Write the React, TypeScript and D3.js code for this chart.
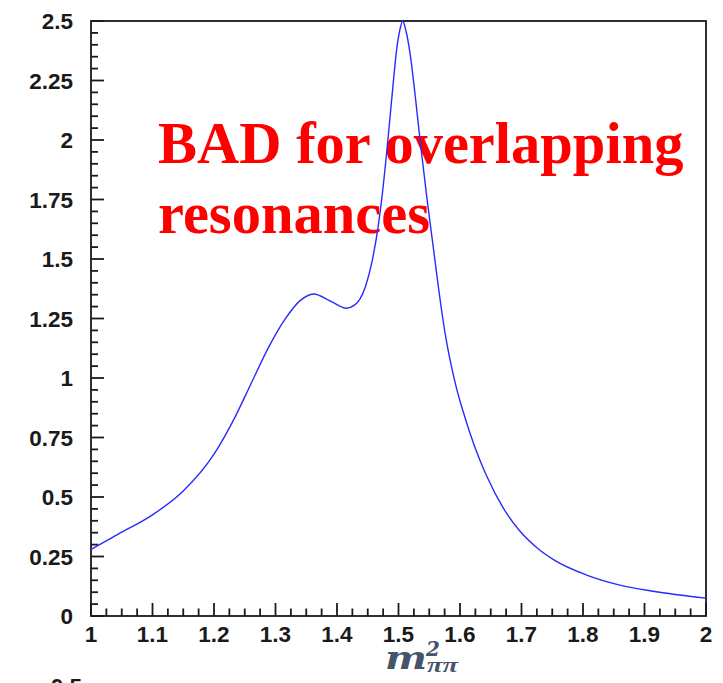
import React from "react";
import * as d3 from "d3";

const xValues = [1.0, 1.045, 1.1, 1.15, 1.2, 1.235, 1.26, 1.29, 1.315, 1.34, 1.362, 1.39, 1.415, 1.428, 1.437, 1.447, 1.457, 1.466, 1.474, 1.482, 1.49, 1.497, 1.502, 1.507, 1.512, 1.519, 1.527, 1.535, 1.546, 1.557, 1.565, 1.572, 1.579, 1.586, 1.595, 1.605, 1.616, 1.63, 1.643, 1.67, 1.698, 1.725, 1.752, 1.806, 1.86, 1.914, 2.0];
const yValues = [0.28, 0.345, 0.425, 0.525, 0.68, 0.84, 0.975, 1.135, 1.245, 1.325, 1.353, 1.322, 1.293, 1.305, 1.33, 1.39, 1.49, 1.62, 1.78, 1.98, 2.2, 2.38, 2.46, 2.5, 2.46, 2.36, 2.19, 2.0, 1.76, 1.54, 1.38, 1.25, 1.14, 1.05, 0.95, 0.86, 0.77, 0.67, 0.59, 0.455, 0.355, 0.287, 0.237, 0.172, 0.13, 0.104, 0.075];

const xTickLabels = ["1", "1.1", "1.2", "1.3", "1.4", "1.5", "1.6", "1.7", "1.8", "1.9", "2"];
const yTickLabels = ["0", "0.25", "0.5", "0.75", "1", "1.25", "1.5", "1.75", "2", "2.25", "2.5"];
const titleLines = ["BAD for overlapping", "resonances"];

const W = 723;
const H = 683;
const left = 91;
const right = 706;
const top = 21;
const bottom = 616;

export default function App() {
  const x = d3.scaleLinear().domain([1, 2]).range([left, right]);
  const y = d3.scaleLinear().domain([0, 2.5]).range([bottom, top]);
  const pts: [number, number][] = xValues.map((v, i) => [v, yValues[i]]);
  const line = d3
    .line<[number, number]>()
    .x((d) => x(d[0]))
    .y((d) => y(d[1]))
    .curve(d3.curveMonotoneX);

  const xMinor = d3.range(0, 41).map((i) => 1 + i * 0.025);
  const yMinor = d3.range(0, 51).map((i) => i * 0.05);
  const tickColor = "#1a1a1a";
  const labelFont = "'Liberation Sans', Arial, sans-serif";

  return (
    <svg
      width={W}
      height={H}
      style={{ position: "absolute", left: 0, top: 0, display: "block", background: "#fff" }}
    >
      <rect x={0} y={0} width={W} height={H} fill="#fff" />
      {/* x ticks */}
      {xMinor.map((v, i) => {
        const major = i % 4 === 0;
        return (
          <line
            key={"xt" + i}
            x1={x(v)}
            x2={x(v)}
            y1={bottom}
            y2={bottom - (major ? 13 : 7.5)}
            stroke={tickColor}
            strokeWidth={1.8}
          />
        );
      })}
      {yMinor.map((v, i) => {
        const major = i % 5 === 0;
        return (
          <line
            key={"yt" + i}
            x1={left}
            x2={left + (major ? 13 : 7)}
            y1={y(v)}
            y2={y(v)}
            stroke={tickColor}
            strokeWidth={1.8}
          />
        );
      })}
      {/* frame */}
      <rect
        x={left}
        y={top}
        width={right - left}
        height={bottom - top}
        fill="none"
        stroke="#1a1a1a"
        strokeWidth={1.8}
      />
      {/* tick labels */}
      {xTickLabels.map((t) => (
        <text
          key={"xl" + t}
          x={x(+t)}
          y={641.5}
          textAnchor="middle"
          fontFamily={labelFont}
          fontWeight="bold"
          fontSize={22.5}
          fill={tickColor}
        >
          {t}
        </text>
      ))}
      {yTickLabels.map((t) => (
        <text
          key={"yl" + t}
          x={73}
          y={y(+t)}
          dy="0.36em"
          textAnchor="end"
          fontFamily={labelFont}
          fontWeight="bold"
          fontSize={22.5}
          fill={tickColor}
        >
          {t}
        </text>
      ))}
      {/* cut-off label of the next panel */}
      <text
        x={82}
        y={694}
        textAnchor="end"
        fontFamily={labelFont}
        fontWeight="bold"
        fontSize={22.5}
        fill={tickColor}
      >
        0.5
      </text>
      {/* axis title */}
      <text fill="#44546a" fontWeight="bold" fontStyle="italic" fontFamily="'DejaVu Serif', serif">
        <tspan x={385} y={669} fontSize={32} textLength={42} lengthAdjust="spacingAndGlyphs">
          m
        </tspan>
        <tspan x={426} y={656} fontSize={20}>
          2
        </tspan>
        <tspan
          x={427}
          y={672}
          fontSize={22}
          fontFamily="'Liberation Serif', 'Times New Roman', serif"
          textLength={31}
          lengthAdjust="spacingAndGlyphs"
        >
          ππ
        </tspan>
      </text>
      {/* red annotation */}
      {titleLines.map((t, i) => (
        <text
          key={"tt" + i}
          x={158}
          y={163 + i * 70}
          fontFamily="'Liberation Serif', 'Times New Roman', serif"
          fontWeight="bold"
          fontSize={58.5}
          fill="#ff0000"
        >
          {t}
        </text>
      ))}
      {/* curve */}
      <path d={line(pts) || ""} fill="none" stroke="#2a2aff" strokeWidth={1.4} />
    </svg>
  );
}
